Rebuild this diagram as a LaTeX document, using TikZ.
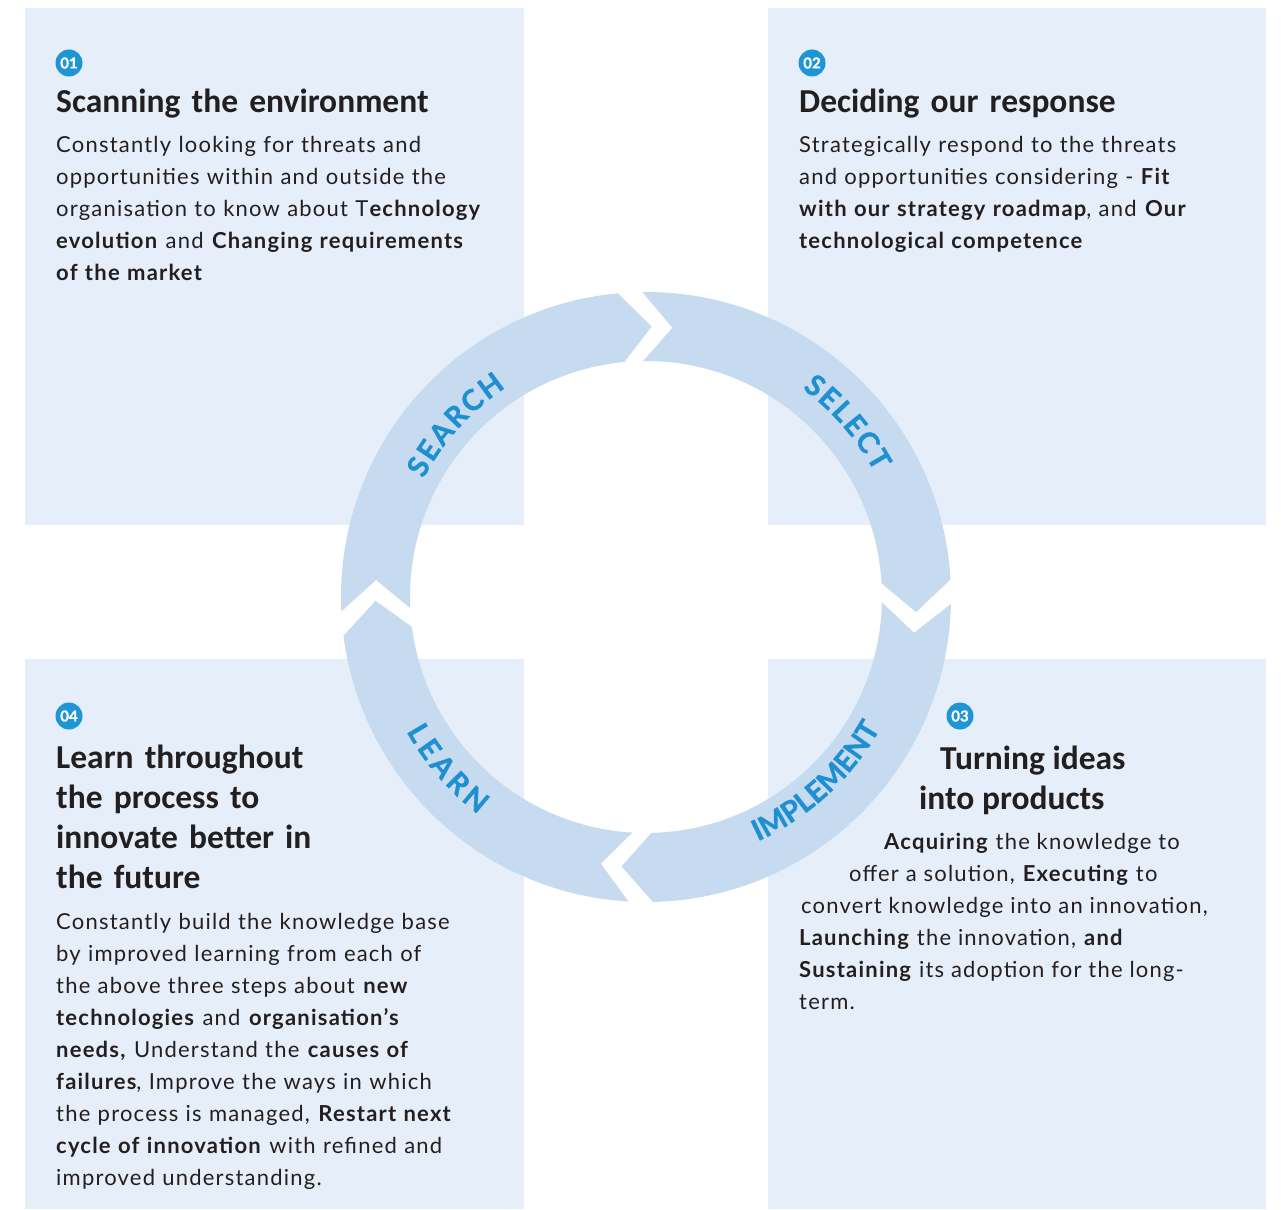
\documentclass[tikz,border=0pt]{standalone}
\usepackage{fontspec}
\setmainfont{Lato}[LetterSpace=5.5]
\newfontfamily\headfont{Carlito}
\newfontfamily\lblfont{Lato}[BoldFeatures={FakeBold=1.2}]
\newfontfamily\badgefont{Lato}[BoldFeatures={FakeBold=1}]
\usetikzlibrary{decorations.text}
\definecolor{panel}{HTML}{E6EFF9}
\definecolor{ringc}{HTML}{C6DBF0}
\definecolor{badgec}{HTML}{1E96D6}
\definecolor{lblc}{HTML}{1E90D2}
\definecolor{ink}{HTML}{231F20}
\newcommand\bodyfmt{\fontsize{22}{32}\selectfont}
\newcommand\headfmt{\headfont\bfseries\fontsize{33.5}{40}\selectfont}
\newcommand\lblfmt{\lblfont\bfseries\fontsize{29}{29}\selectfont}
% ring segment from junction angle #1 (start) clockwise to junction angle #2 (end)
\newcommand\ringseg[2]{%
  \fill[ringfill] ({#1-1.3}:305) arc[start angle={#1-1.3}, end angle={#2+3.3}, radius=305]
    -- ({#2-3.2}:270.5) -- ({#2+3.3}:236)
    arc[start angle={#2+3.3}, end angle={#1-1.3}, radius=236]
    -- ({#1-7.6}:270.5) -- cycle;}
\tikzset{
  panelbox/.style={fill=panel, draw=none, anchor=north west, inner sep=0pt, outer sep=0pt},
  badge/.style={circle, fill=badgec, text=white, inner sep=0pt, minimum size=27pt,
    font=\badgefont\bfseries\fontsize{15}{15}\selectfont},
  head/.style={anchor=base west, inner sep=0pt, text=ink, font=\headfmt, text width=300pt, align=left},
  body/.style={anchor=base west, inner sep=0pt, text=ink, font=\bodyfmt, text width=440pt, align=left},
  line/.style={anchor=base west, inner sep=0pt, text=ink, font=\bodyfmt},
  ringfill/.style={fill=ringc, draw=none},
  lbl/.style={decorate, decoration={text along path, text align={fit to path}, text color=lblc, text={#1}}}
}
\begin{document}
\begin{tikzpicture}[x=1pt,y=1pt]
\useasboundingbox (0,0) rectangle (1281,-1209);
\fill[white] (0,0) rectangle (1281,-1209);
% panels
\node[panelbox, minimum width=499pt, minimum height=517pt] (p1) at (25,-8) {};
\node[panelbox, minimum width=498pt, minimum height=517pt] (p2) at (768,-8) {};
\node[panelbox, minimum width=499pt, minimum height=550pt] (p4) at (25,-659) {};
\node[panelbox, minimum width=498pt, minimum height=550pt] (p3) at (768,-659) {};
% ring
\begin{scope}[shift={(646,-597)}]
  \ringseg{184}{92}
  \ringseg{92}{0}
  \ringseg{360}{268}
  \ringseg{268}{184}
  \path[lbl={|\lblfmt|SEARCH}] (152:252) arc[start angle=152, end angle=123.8, radius=252];
  \path[lbl={|\lblfmt|SELECT}] (53.1:260.5) arc[start angle=53.1, end angle=28.6, radius=260.5];
  \path[lbl={|\lblfmt|IMPLEMENT}] (-65.4:268.7) arc[start angle=-65.4, end angle=-30.1, radius=268.7];
  \path[lbl={|\lblfmt|LEARN}] (209.3:274.7) arc[start angle=209.3, end angle=232.3, radius=274.7];
\end{scope}
% badges
\node[badge] (b1) at (69,-63) {01};
\node[badge] (b2) at (812,-63) {02};
\node[badge] (b3) at (960,-716) {03};
\node[badge] (b4) at (69,-716) {04};
% panel 1
\node[head, text width=420pt] (h1) at (56,-113) {Scanning the environment};
\node[body] (t1) at (56,-153) {Constantly looking for threats and\\
opportunities within and outside the\\
organisation to know about T\textbf{echnology}\\
\textbf{evolution} and \textbf{Changing requirements}\\
\textbf{of the market}};
% panel 2
\node[head, text width=420pt] (h2) at (799,-113) {Deciding our response};
\node[body] (t2) at (799,-153) {Strategically respond to the threats\\
and opportunities considering - \textbf{Fit}\\
\textbf{with our strategy roadmap}, and \textbf{Our}\\
\textbf{technological competence}};
% panel 3
\node[line, font=\headfmt] (h3a) at (940,-769) {Turning ideas};
\node[line, font=\headfmt] (h3b) at (919,-809) {into products};
\node[line] (t3a) at (884,-849) {\textbf{Acquiring} the knowledge to};
\node[line] (t3b) at (849,-881) {offer a solution, \textbf{Executing} to};
\node[line] (t3c) at (801,-913) {convert knowledge into an innovation,};
\node[line] (t3d) at (799,-945) {\textbf{Launching} the innovation, \textbf{and}};
\node[line] (t3e) at (799,-977) {\textbf{Sustaining} its adoption for the long-};
\node[line] (t3f) at (799,-1009) {term.};
% panel 4
\node[head] (h4) at (56,-768) {Learn throughout\\the process to\\innovate better in\\the future};
\node[body] (t4) at (56,-929) {Constantly build the knowledge base\\
by improved learning from each of\\
the above three steps about \textbf{new}\\
\textbf{technologies} and \textbf{organisation's}\\
\textbf{needs,} Understand the \textbf{causes of}\\
\textbf{failures}, Improve the ways in which\\
the process is managed, \textbf{Restart next}\\
\textbf{cycle of innovation} with refined and\\
improved understanding.};
\end{tikzpicture}
\end{document}
